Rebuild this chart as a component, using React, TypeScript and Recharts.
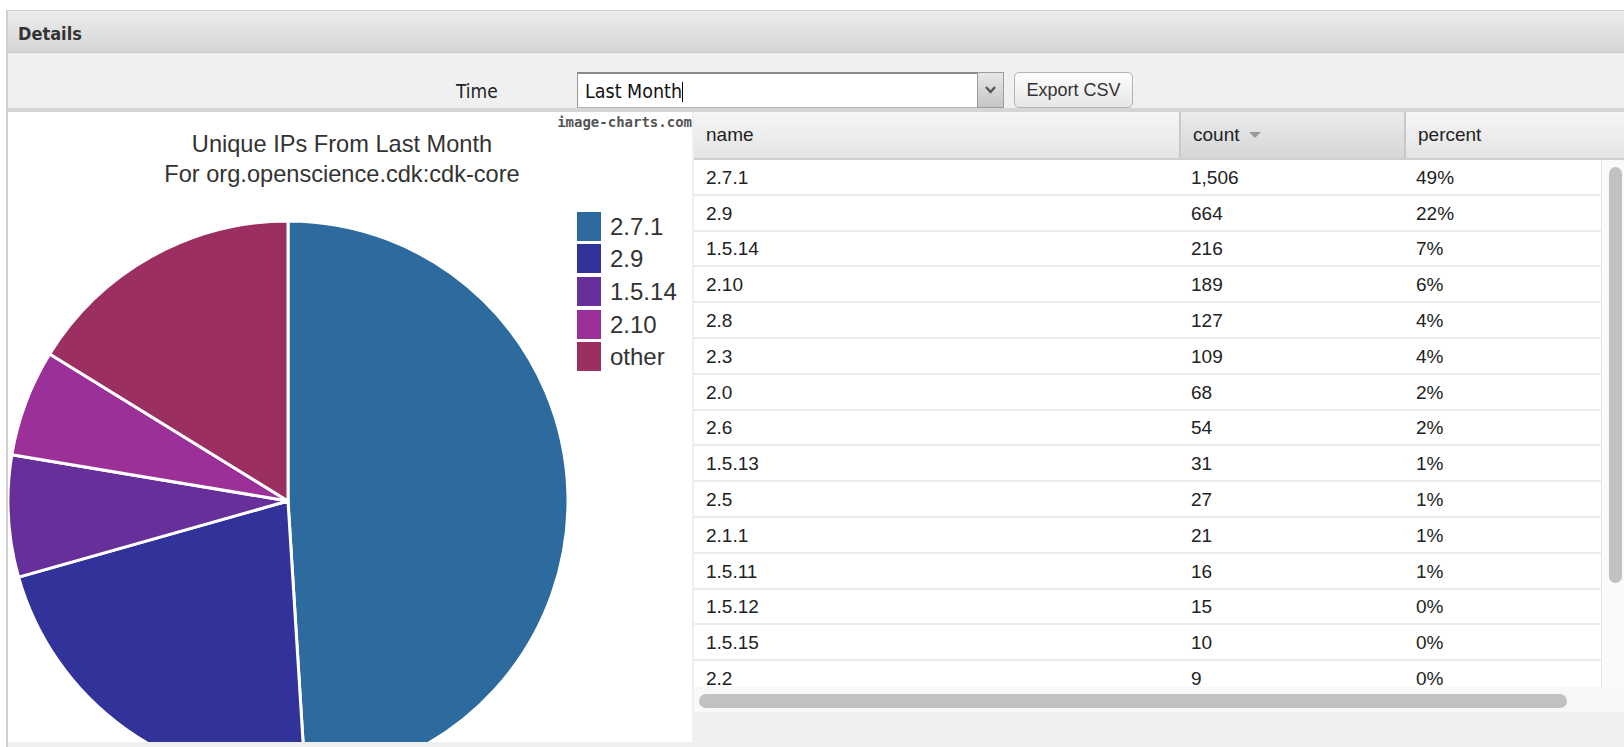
import React from 'react';
import { PieChart, Pie, Cell, Legend } from 'recharts';

// pie slices (top four versions + the rest lumped together)
const pieNames = ['2.7.1', '2.9', '1.5.14', '2.10', 'other'];
const pieValues = [1506, 664, 216, 189, 498];
const pieColors = ['#2d6a9d', '#32339a', '#662f99', '#9b3099', '#9c2f61'];

// table rows
const versionNames = ['2.7.1', '2.9', '1.5.14', '2.10', '2.8', '2.3', '2.0', '2.6', '1.5.13', '2.5', '2.1.1', '1.5.11', '1.5.12', '1.5.15', '2.2'];
const versionCounts = [1506, 664, 216, 189, 127, 109, 68, 54, 31, 27, 21, 16, 15, 10, 9];
const versionPercents = ['49%', '22%', '7%', '6%', '4%', '4%', '2%', '2%', '1%', '1%', '1%', '1%', '0%', '0%', '0%'];

const tableColumns = ['name', 'count', 'percent'];

const uiFont = '"DejaVu Sans Condensed", "DejaVu Sans", sans-serif';
const cellFont = '"Liberation Sans", Arial, sans-serif';

const pieData = pieNames.map((name, i) => ({ name, value: pieValues[i] }));

function renderLegend(props: any) {
  const payload = props.payload || [];
  return (
    <div>
      {payload.map((entry: any) => (
        <div key={entry.value} style={{ display: 'flex', alignItems: 'center', height: 32.6 }}>
          <span style={{ display: 'inline-block', width: 24, height: 29, background: pieColors[pieNames.indexOf(entry.value)], marginRight: 9 }} />
          <span style={{ fontFamily: cellFont, fontSize: 24, color: '#333', lineHeight: '29px' }}>{entry.value}</span>
        </div>
      ))}
    </div>
  );
}

function ChartImage() {
  return (
    <div style={{ position: 'absolute', left: 8, top: 112, width: 684, height: 630, overflow: 'hidden', background: '#fff' }}>
      <div style={{ position: 'absolute', right: 0, top: 2, fontFamily: '"DejaVu Sans Mono", monospace', fontWeight: 'bold', fontSize: 14, color: '#555' }}>
        image-charts.com
      </div>
      <div style={{ position: 'absolute', left: 0, top: 17, width: 668, textAlign: 'center', fontFamily: cellFont, fontSize: 23.6, lineHeight: '30px', color: '#333' }}>
        <div>Unique IPs From Last Month</div>
        <div>For org.openscience.cdk:cdk-core</div>
      </div>
      <PieChart width={684} height={630} margin={{ top: 0, right: 0, bottom: 0, left: 0 }}>
        <Pie
          data={pieData}
          dataKey="value"
          nameKey="name"
          cx={280}
          cy={389}
          outerRadius={280}
          startAngle={90}
          endAngle={-270}
          stroke="#fff"
          strokeWidth={3}
          isAnimationActive={false}
        >
          {pieData.map((d, i) => (
            <Cell key={d.name} fill={pieColors[i]} />
          ))}
        </Pie>
        <Legend
          layout="vertical"
          align="right"
          verticalAlign="top"
          itemSorter={(item: any) => pieNames.indexOf(item.value)}
          content={renderLegend}
          wrapperStyle={{ left: 569, top: 98, width: 110 }}
        />
      </PieChart>
    </div>
  );
}

function VersionTable() {
  const colLeft = [0, 485, 710];
  const rowH = 35.8;
  return (
    <div style={{ position: 'absolute', left: 694, top: 112, width: 930, height: 635, background: '#efefef' }}>
      {/* header */}
      <div style={{ position: 'absolute', left: 0, top: 0, width: 930, height: 48, borderBottom: '2px solid #cfcfcf', boxSizing: 'border-box', background: 'linear-gradient(#f6f6f6, #e4e4e4)' }}>
        <div style={{ position: 'absolute', left: 485, top: 0, width: 225, height: 46, background: 'linear-gradient(#ebebeb, #d6d6d6)' }} />
        {tableColumns.map((c, i) => (
          <div key={c} style={{ position: 'absolute', left: colLeft[i], top: 0, height: 46, paddingLeft: 12, display: 'flex', alignItems: 'center', fontFamily: cellFont, fontSize: 19, color: '#222', borderLeft: i > 0 ? '2px solid #c8c8c8' : 'none', boxSizing: 'border-box' }}>
            {c}
            {c === 'count' && (
              <svg width={12} height={8} style={{ marginLeft: 10 }}>
                <polygon points="0,1 12,1 6,7" fill="#9a9a9a" />
              </svg>
            )}
          </div>
        ))}
      </div>
      {/* body */}
      <div style={{ position: 'absolute', left: 0, top: 48, width: 930, height: 527, background: '#fff', overflow: 'hidden' }}>
        {versionNames.map((name, r) => (
          <div key={name + r} style={{ position: 'absolute', left: 0, top: r * rowH, width: 908, height: rowH, borderBottom: '2px solid #ececec', borderRight: '1px solid #e2e2e2', boxSizing: 'border-box', fontFamily: cellFont, fontSize: 19, color: '#222' }}>
            {[name, versionCounts[r].toLocaleString('en-US'), versionPercents[r]].map((v, i) => (
              <div key={i} style={{ position: 'absolute', left: colLeft[i] + 12, top: 1, height: rowH - 2, display: 'flex', alignItems: 'center' }}>{v}</div>
            ))}
          </div>
        ))}
        <div style={{ position: 'absolute', left: 908, top: 0, width: 22, height: 527, background: '#fafafa' }} />
        <div style={{ position: 'absolute', left: 915, top: 7, width: 13, height: 416, borderRadius: 7, background: '#c1c1c1' }} />
      </div>
      {/* horizontal scrollbar */}
      <div style={{ position: 'absolute', left: 0, top: 575, width: 930, height: 25, background: '#f8f8f8' }} />
      <div style={{ position: 'absolute', left: 5, top: 582, width: 868, height: 14, borderRadius: 7, background: '#c1c1c1' }} />
    </div>
  );
}

export default function App() {
  return (
    <div style={{ position: 'absolute', left: 0, top: 0, width: 1624, height: 747, overflow: 'hidden', background: '#fff' }}>
      <div style={{ position: 'absolute', left: 6, top: 10, width: 1618, height: 737, borderLeft: '2px solid #cfcfcf', borderTop: '1px solid #cfcfcf', background: '#efefef', boxSizing: 'border-box' }} />
      {/* title bar */}
      <div style={{ position: 'absolute', left: 8, top: 11, width: 1616, height: 42, background: 'linear-gradient(#ececec, #d6d6d6)', borderBottom: '1px solid #c9c9c9', boxSizing: 'border-box' }}>
        <span style={{ position: 'absolute', left: 10, top: 12, fontFamily: uiFont, fontWeight: 'bold', fontSize: 18, color: '#333' }}>Details</span>
      </div>
      {/* toolbar */}
      <div style={{ position: 'absolute', left: 8, top: 53, width: 1616, height: 55, background: '#f0f0f0', borderBottom: '4px solid #d5d5d5' }} />
      <span style={{ position: 'absolute', left: 456, top: 80, fontFamily: uiFont, fontSize: 19, color: '#222' }}>Time</span>
      <div style={{ position: 'absolute', left: 577, top: 72, width: 400, height: 36, background: '#fff', borderTop: '2px solid #8a8a8a', borderLeft: '1px solid #9a9a9a', borderBottom: '1px solid #b5b5b5', boxSizing: 'border-box' }}>
        <span style={{ position: 'absolute', left: 7, top: 6, fontFamily: uiFont, fontSize: 19.5, color: '#111', display: 'flex', alignItems: 'center' }}>
          Last Month
          <span style={{ display: 'inline-block', width: 1, height: 20, background: '#000', marginLeft: 0 }} />
        </span>
      </div>
      <div style={{ position: 'absolute', left: 977, top: 72, width: 27, height: 36, background: 'linear-gradient(#e6e6e6, #c6c6c6)', border: '1px solid #9c9c9c', boxSizing: 'border-box' }}>
        <svg width={25} height={34} style={{ position: 'absolute', left: 0, top: 0 }}>
          <polyline points="8,14 12.5,19 17,14" fill="none" stroke="#555" strokeWidth={2.4} />
        </svg>
      </div>
      <div style={{ position: 'absolute', left: 1014, top: 72, width: 119, height: 36, borderRadius: 5, border: '1px solid #b3b3b3', background: 'linear-gradient(#fdfdfd, #e6e6e6)', boxSizing: 'border-box', display: 'flex', alignItems: 'center', justifyContent: 'center', fontFamily: cellFont, fontSize: 18, color: '#333' }}>
        Export CSV
      </div>
      <ChartImage />
      <VersionTable />
    </div>
  );
}
